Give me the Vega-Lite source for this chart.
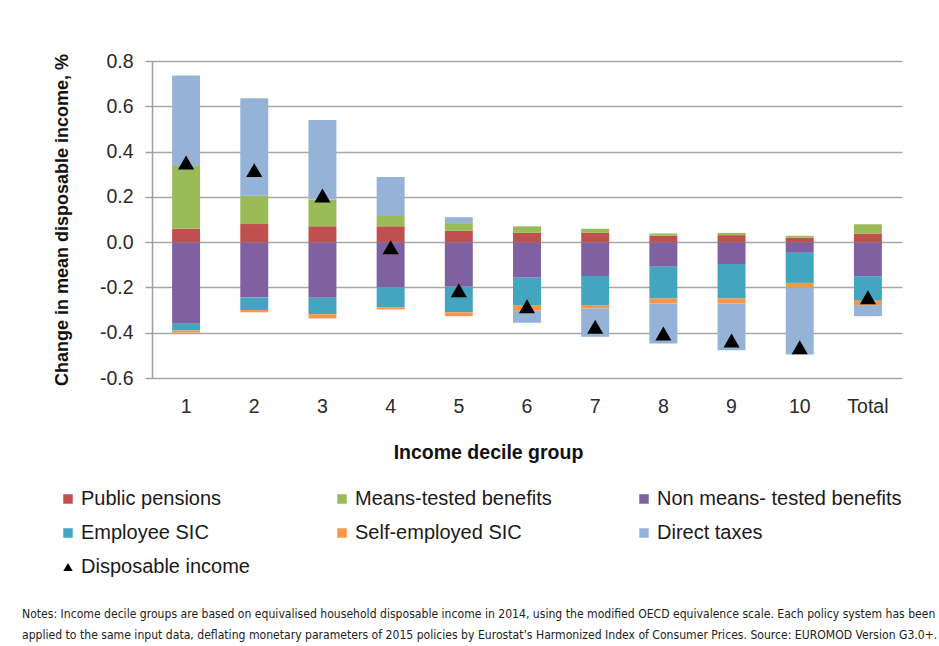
{
  "$schema": "https://vega.github.io/schema/vega-lite/v6.json",
  "width": 750,
  "height": 317,
  "autosize": "none",
  "padding": {"left": 152, "top": 61, "right": 37, "bottom": 268},
  "background": "white",
  "config": {
    "font": "Liberation Sans",
    "view": {"stroke": null}
  },
  "title": {
    "text": [
      "Notes: Income decile groups are based on equivalised household disposable income in 2014, using the modified OECD equivalence scale. Each policy system has been",
      "applied to the same input data, deflating monetary parameters of 2015 policies by Eurostat’s Harmonized Index of Consumer Prices. Source: EUROMOD Version G3.0+."
    ],
    "orient": "bottom",
    "anchor": "start",
    "frame": "group",
    "dx": -130,
    "offset": 31,
    "font": "DejaVu Sans Condensed, sans-serif",
    "fontSize": 12.1,
    "fontWeight": "normal",
    "color": "#222222",
    "lineHeight": 21
  },
  "datasets": {
    "components": [
      {"group": "1", "series": "Public pensions", "value": 0.06},
      {"group": "1", "series": "Means-tested benefits", "value": 0.276},
      {"group": "1", "series": "Non means- tested benefits", "value": -0.36},
      {"group": "1", "series": "Employee SIC", "value": -0.03},
      {"group": "1", "series": "Self-employed SIC", "value": -0.01},
      {"group": "1", "series": "Direct taxes", "value": 0.4},
      {"group": "2", "series": "Public pensions", "value": 0.08},
      {"group": "2", "series": "Means-tested benefits", "value": 0.125},
      {"group": "2", "series": "Non means- tested benefits", "value": -0.245},
      {"group": "2", "series": "Employee SIC", "value": -0.055},
      {"group": "2", "series": "Self-employed SIC", "value": -0.01},
      {"group": "2", "series": "Direct taxes", "value": 0.43},
      {"group": "3", "series": "Public pensions", "value": 0.07},
      {"group": "3", "series": "Means-tested benefits", "value": 0.118},
      {"group": "3", "series": "Non means- tested benefits", "value": -0.246},
      {"group": "3", "series": "Employee SIC", "value": -0.072},
      {"group": "3", "series": "Self-employed SIC", "value": -0.019},
      {"group": "3", "series": "Direct taxes", "value": 0.351},
      {"group": "4", "series": "Public pensions", "value": 0.07},
      {"group": "4", "series": "Means-tested benefits", "value": 0.046},
      {"group": "4", "series": "Non means- tested benefits", "value": -0.2},
      {"group": "4", "series": "Employee SIC", "value": -0.088},
      {"group": "4", "series": "Self-employed SIC", "value": -0.009},
      {"group": "4", "series": "Direct taxes", "value": 0.172},
      {"group": "5", "series": "Public pensions", "value": 0.05},
      {"group": "5", "series": "Means-tested benefits", "value": 0.034},
      {"group": "5", "series": "Non means- tested benefits", "value": -0.197},
      {"group": "5", "series": "Employee SIC", "value": -0.113},
      {"group": "5", "series": "Self-employed SIC", "value": -0.017},
      {"group": "5", "series": "Direct taxes", "value": 0.026},
      {"group": "6", "series": "Public pensions", "value": 0.041},
      {"group": "6", "series": "Means-tested benefits", "value": 0.029},
      {"group": "6", "series": "Non means- tested benefits", "value": -0.157},
      {"group": "6", "series": "Employee SIC", "value": -0.121},
      {"group": "6", "series": "Self-employed SIC", "value": -0.025},
      {"group": "6", "series": "Direct taxes", "value": -0.053},
      {"group": "7", "series": "Public pensions", "value": 0.041},
      {"group": "7", "series": "Means-tested benefits", "value": 0.018},
      {"group": "7", "series": "Non means- tested benefits", "value": -0.149},
      {"group": "7", "series": "Employee SIC", "value": -0.129},
      {"group": "7", "series": "Self-employed SIC", "value": -0.015},
      {"group": "7", "series": "Direct taxes", "value": -0.125},
      {"group": "8", "series": "Public pensions", "value": 0.028},
      {"group": "8", "series": "Means-tested benefits", "value": 0.01},
      {"group": "8", "series": "Non means- tested benefits", "value": -0.109},
      {"group": "8", "series": "Employee SIC", "value": -0.14},
      {"group": "8", "series": "Self-employed SIC", "value": -0.022},
      {"group": "8", "series": "Direct taxes", "value": -0.177},
      {"group": "9", "series": "Public pensions", "value": 0.031},
      {"group": "9", "series": "Means-tested benefits", "value": 0.01},
      {"group": "9", "series": "Non means- tested benefits", "value": -0.097},
      {"group": "9", "series": "Employee SIC", "value": -0.152},
      {"group": "9", "series": "Self-employed SIC", "value": -0.022},
      {"group": "9", "series": "Direct taxes", "value": -0.206},
      {"group": "10", "series": "Public pensions", "value": 0.02},
      {"group": "10", "series": "Means-tested benefits", "value": 0.008},
      {"group": "10", "series": "Non means- tested benefits", "value": -0.047},
      {"group": "10", "series": "Employee SIC", "value": -0.133},
      {"group": "10", "series": "Self-employed SIC", "value": -0.022},
      {"group": "10", "series": "Direct taxes", "value": -0.294},
      {"group": "Total", "series": "Public pensions", "value": 0.038},
      {"group": "Total", "series": "Means-tested benefits", "value": 0.041},
      {"group": "Total", "series": "Non means- tested benefits", "value": -0.15},
      {"group": "Total", "series": "Employee SIC", "value": -0.109},
      {"group": "Total", "series": "Self-employed SIC", "value": -0.019},
      {"group": "Total", "series": "Direct taxes", "value": -0.049}
    ],
    "income": [
      {"group": "1", "series": "Disposable income", "value": 0.352},
      {"group": "2", "series": "Disposable income", "value": 0.318},
      {"group": "3", "series": "Disposable income", "value": 0.206},
      {"group": "4", "series": "Disposable income", "value": -0.023},
      {"group": "5", "series": "Disposable income", "value": -0.212},
      {"group": "6", "series": "Disposable income", "value": -0.283},
      {"group": "7", "series": "Disposable income", "value": -0.374},
      {"group": "8", "series": "Disposable income", "value": -0.403},
      {"group": "9", "series": "Disposable income", "value": -0.434},
      {"group": "10", "series": "Disposable income", "value": -0.464},
      {"group": "Total", "series": "Disposable income", "value": -0.243}
    ]
  },
  "encoding": {
    "x": {
      "field": "group",
      "type": "nominal",
      "sort": null,
      "scale": {"paddingInner": 0.59, "paddingOuter": 0.295},
      "axis": {
        "title": "Income decile group",
        "labelAngle": 0,
        "labelFontSize": 19.5,
        "labelColor": "#2a2a2a",
        "labelPadding": 19,
        "domain": false,
        "ticks": false,
        "titleFontSize": 19.5,
        "titleFontWeight": "bold",
        "titleColor": "#111111",
        "titleX": 336,
        "titleY": 65,
        "titleBaseline": "top"
      }
    },
    "y": {
      "field": "value",
      "type": "quantitative",
      "scale": {"domain": [-0.6, 0.8], "nice": false},
      "axis": {
        "title": "Change in mean disposable income, %",
        "values": [-0.6, -0.4, -0.2, 0, 0.2, 0.4, 0.6, 0.8],
        "labelExpr": "replace(format(datum.value, '.1f'), '−', '-')",
        "labelFontSize": 19.5,
        "labelColor": "#2a2a2a",
        "labelPadding": 12,
        "tickSize": 7,
        "tickColor": "#a0a0a0",
        "tickWidth": 1.5,
        "domainColor": "#a0a0a0",
        "domainWidth": 1.5,
        "gridColor": "#a8a8a8",
        "gridWidth": 1.5,
        "titleFontSize": 18,
        "titleFontWeight": "bold",
        "titleColor": "#111111",
        "titlePadding": 28
      }
    }
  },
  "layer": [
    {
      "mark": {"type": "rule", "color": "#a0a0a0", "strokeWidth": 1.5},
      "encoding": {"y": {"datum": 0}, "x": null}
    },
    {
      "data": {"name": "components"},
      "transform": [
        {"window": [{"op": "row_number", "as": "k"}], "groupby": ["group"]}
      ],
      "mark": {"type": "bar"},
      "encoding": {
        "y": {"field": "value", "type": "quantitative", "stack": "zero"},
        "order": {"field": "k", "type": "quantitative", "sort": "ascending"},
        "color": {
          "field": "series",
          "type": "nominal",
          "scale": {
            "domain": ["Public pensions", "Means-tested benefits", "Non means- tested benefits", "Employee SIC", "Self-employed SIC", "Direct taxes", "Disposable income"],
            "range": ["#c0504d", "#9bbb59", "#7f60a0", "#43a5bf", "#f79646", "#95b3d7", "#000000"]
          },
          "legend": {
            "title": null,
            "orient": "none",
            "direction": "horizontal",
            "legendX": -94,
            "legendY": 428,
            "columns": 3,
            "gridAlign": "each",
            "columnPadding": 82,
            "rowPadding": 14,
            "labelFontSize": 20,
            "labelColor": "#1a1a1a",
            "labelLimit": 400,
            "symbolSize": 90,
            "labelOffset": 3
          }
        }
      }
    },
    {
      "data": {"name": "income"},
      "mark": {"type": "point", "filled": true, "size": 260, "opacity": 1},
      "encoding": {
        "color": {
          "field": "series",
          "type": "nominal",
          "scale": {
            "domain": ["Public pensions", "Means-tested benefits", "Non means- tested benefits", "Employee SIC", "Self-employed SIC", "Direct taxes", "Disposable income"]
          }
        },
        "shape": {
          "field": "series",
          "type": "nominal",
          "scale": {
            "domain": ["Public pensions", "Means-tested benefits", "Non means- tested benefits", "Employee SIC", "Self-employed SIC", "Direct taxes", "Disposable income"],
            "range": ["square", "square", "square", "square", "square", "square", "triangle-up"]
          }
        }
      }
    }
  ]
}
